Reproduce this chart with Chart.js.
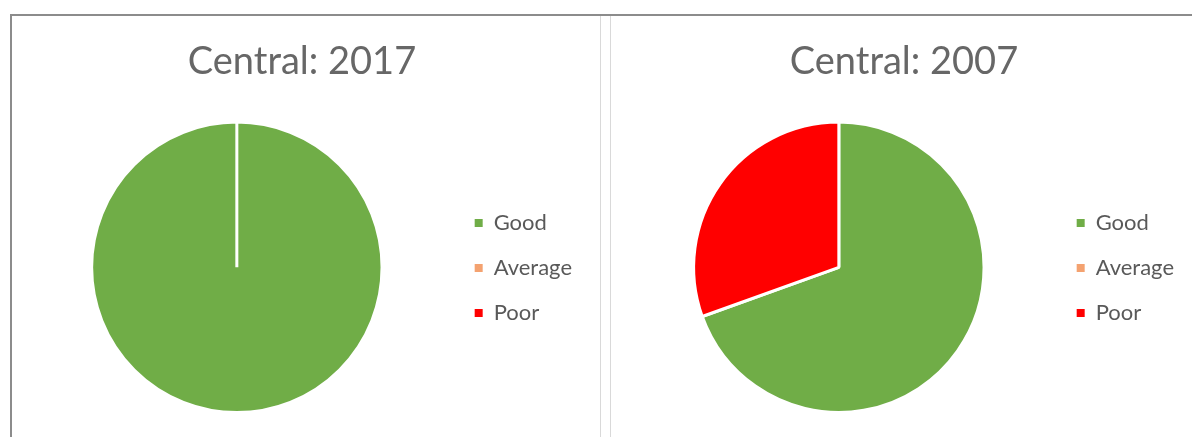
<!DOCTYPE html>
<html>
<head>
<meta charset="utf-8">
<script src="https://cdn.jsdelivr.net/npm/chart.js@4.4.1/dist/chart.umd.min.js"></script>
<style>
    html, body { margin: 0; padding: 0; background: #fff; }
    body { width: 1192px; height: 437px; position: relative; overflow: hidden; }
    .frame-top { position: absolute; left: 10px; top: 14px; width: 1182px; height: 2px; background: #8c8c8c; }
    .frame-left { position: absolute; left: 10px; top: 14px; width: 2px; height: 423px; background: #8c8c8c; }
    .sep { position: absolute; top: 16px; width: 1px; height: 421px; background: #d9d9d9; }
    .panel { position: absolute; top: 16px; height: 421px; width: 588px; }
    #panel-2017 { left: 12px; }
    #panel-2007 { left: 614px; }
</style>
</head>
<body>
<div class="frame-top"></div>
<div class="frame-left"></div>
<div class="sep" style="left:600px"></div>
<div class="sep" style="left:610px"></div>
<div class="panel" id="panel-2017"><canvas id="chart-2017"></canvas></div>
<div class="panel" id="panel-2007"><canvas id="chart-2007"></canvas></div>
<script>
    // ===== DATOS =====
    const categories = ['Good', 'Average', 'Poor'];
    const values2017 = [100, 0, 0];
    const values2007 = [69.5, 0, 30.5];
    const titles = ['Central: 2017', 'Central: 2007'];
    const sliceColors = ['#70AD47', '#F4A270', '#FF0000'];

    const textColor = '#595959';
    const titleColor = '#676767';
    const fontFamily = 'Lato, "Open Sans", sans-serif';

    // mueve la leyenda un poco (Excel la deja más a la izquierda y centrada con el pie)
    const legendShift = {
        id: 'legendShift',
        afterLayout(chart, args, opts) {
            const lg = chart.legend;
            if (!lg) return;
            lg.left += opts.x; lg.right += opts.x;
            lg.top += opts.y; lg.bottom += opts.y;
        }
    };

    // cuadraditos de la leyenda sin el borde blanco de las porciones
    function legendLabels(chart) {
        return Chart.overrides.pie.plugins.legend.labels.generateLabels(chart)
            .map(item => ({ ...item, lineWidth: 0 }));
    }

    function makePie(canvasId, title, values) {
        const ctx = document.getElementById(canvasId).getContext('2d');
        return new Chart(ctx, {
            type: 'pie',
            data: {
                labels: categories,
                datasets: [{
                    data: values,
                    backgroundColor: sliceColors,
                    borderColor: '#ffffff',
                    borderWidth: 3
                }]
            },
            options: {
                responsive: true,
                maintainAspectRatio: false,
                animation: false,
                layout: { padding: { left: 0, right: 8, top: 0, bottom: 23 } },
                plugins: {
                    legendShift: { x: -10, y: 53 },
                    title: {
                        display: true,
                        text: title,
                        color: titleColor,
                        font: { family: fontFamily, size: 38, weight: 'normal' },
                        padding: { top: 23, bottom: 36 }
                    },
                    legend: {
                        position: 'right',
                        labels: {
                            color: textColor,
                            font: { family: fontFamily, size: 22 },
                            boxWidth: 8,
                            boxHeight: 8,
                            padding: 23,
                            generateLabels: legendLabels
                        }
                    },
                    tooltip: { enabled: false }
                }
            },
            plugins: [legendShift]
        });
    }

    makePie('chart-2017', titles[0], values2017);
    makePie('chart-2007', titles[1], values2007);
</script>
</body>
</html>
